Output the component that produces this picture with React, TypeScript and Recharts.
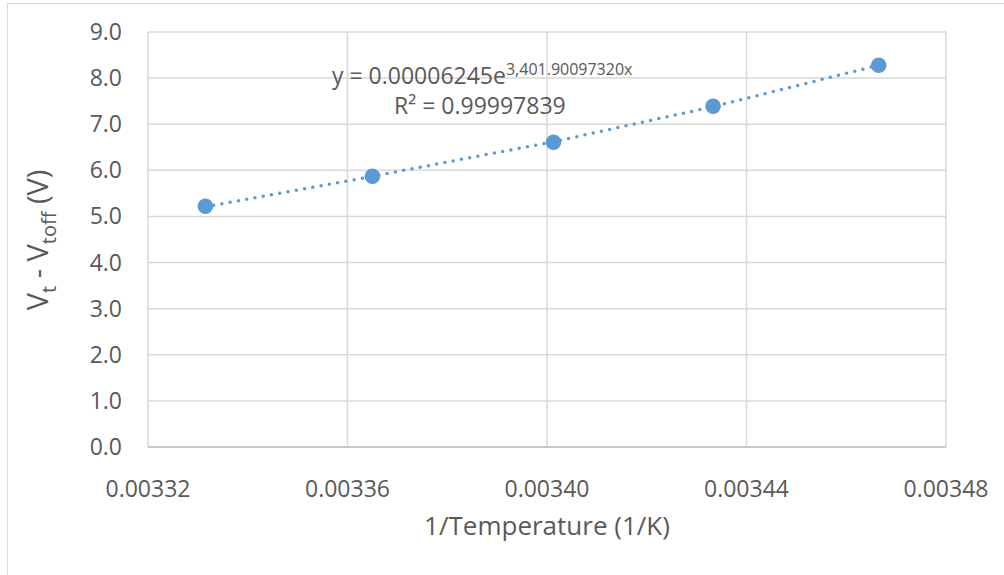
import React from "react";
import {
  ComposedChart,
  Line,
  Scatter,
  XAxis,
  YAxis,
  CartesianGrid,
} from "recharts";

// measured points (1/T in 1/K, Vt - Vtoff in V)
const invTemp = [0.0033315, 0.003365, 0.0034013, 0.0034333, 0.0034665];
const voltage = [5.22, 5.87, 6.61, 7.39, 8.28];
// exponential trendline as drawn, read at the same x positions
const trendFit = [5.21, 5.87, 6.62, 7.38, 8.28];

const xTicks = [0.00332, 0.00336, 0.0034, 0.00344, 0.00348];
const yTicks = [0, 1, 2, 3, 4, 5, 6, 7, 8, 9];

const equation = "y = 0.00006245e";
const exponent = "3,401.90097320x";
const rSquared = "R² = 0.99997839";

const rows = invTemp.map((x, i) => ({ x, v: voltage[i], fit: trendFit[i] }));

const FONT = "'Open Sans', sans-serif";
const TEXT = "#595959";
const BLUE = "#5B9BD5";

const XTick = (props: any) => {
  const { x, y, payload } = props;
  return (
    <text x={x} y={y} dy={42} textAnchor="middle" fill={TEXT} fontSize={23} fontFamily={FONT}>
      {payload.value.toFixed(5)}
    </text>
  );
};

const YTick = (props: any) => {
  const { y, payload } = props;
  return (
    <text x={122} y={y} dy={8} textAnchor="end" fill={TEXT} fontSize={23} fontFamily={FONT}>
      {payload.value.toFixed(1)}
    </text>
  );
};

const YLabel = () => (
  <text
    transform="translate(48,240) rotate(-90)"
    textAnchor="middle"
    fill={TEXT}
    fontSize={29}
    fontFamily={FONT}
  >
    V<tspan fontSize={20} dy={8}>t</tspan>
    <tspan dy={-8}> - V</tspan>
    <tspan fontSize={20} dy={8}>toff</tspan>
    <tspan dy={-8}> (V)</tspan>
  </text>
);

export default function App() {
  return (
    <div style={{ position: "relative", width: 1004, height: 575, background: "#fff" }}>
      <style>{`body{margin:0}`}</style>
      <div
        style={{
          position: "absolute",
          left: 7,
          top: 3,
          right: -2,
          bottom: -2,
          borderLeft: "1.5px solid #D9D9D9",
          borderTop: "1.5px solid #D9D9D9",
        }}
      />
      <ComposedChart
        width={1004}
        height={575}
        data={rows}
        margin={{ top: 32, right: 58, bottom: 0, left: 0 }}
        style={{ position: "absolute", left: 0, top: 0 }}
      >
        <CartesianGrid stroke="#D9D9D9" strokeWidth={1.5} />
        <XAxis
          type="number"
          dataKey="x"
          domain={[0.00332, 0.00348]}
          ticks={xTicks}
          tick={<XTick />}
          tickLine={false}
          axisLine={{ stroke: "#BFBFBF", strokeWidth: 1.5 }}
          height={128}
          label={{
            value: "1/Temperature (1/K)",
            position: "insideBottom",
            offset: 40,
            fill: TEXT,
            fontSize: 26,
            fontFamily: FONT,
          }}
        />
        <YAxis
          type="number"
          domain={[0, 9]}
          ticks={yTicks}
          tick={<YTick />}
          tickLine={false}
          axisLine={false}
          width={148}
          label={{ content: () => <YLabel /> }}
        />
        <Line
          dataKey="fit"
          stroke={BLUE}
          strokeWidth={3.5}
          strokeDasharray="0 8.4"
          strokeLinecap="round"
          dot={false}
          activeDot={false}
          isAnimationActive={false}
        />
        <Scatter
          dataKey="v"
          fill={BLUE}
          shape={(p: any) => <circle cx={p.cx} cy={p.cy} r={7.8} fill={BLUE} />}
          isAnimationActive={false}
        />
      </ComposedChart>
      <div
        style={{
          position: "absolute",
          left: 332,
          top: 61,
          fontFamily: FONT,
          fontSize: 23,
          color: TEXT,
          whiteSpace: "nowrap",
          lineHeight: "24px",
        }}
      >
        {equation}
        <sup style={{ fontSize: 16, verticalAlign: "9px", lineHeight: "16px" }}>{exponent}</sup>
      </div>
      <div
        style={{
          position: "absolute",
          left: 394,
          top: 93,
          fontFamily: FONT,
          fontSize: 23,
          color: TEXT,
          whiteSpace: "nowrap",
          lineHeight: "24px",
        }}
      >
        {rSquared}
      </div>
    </div>
  );
}
